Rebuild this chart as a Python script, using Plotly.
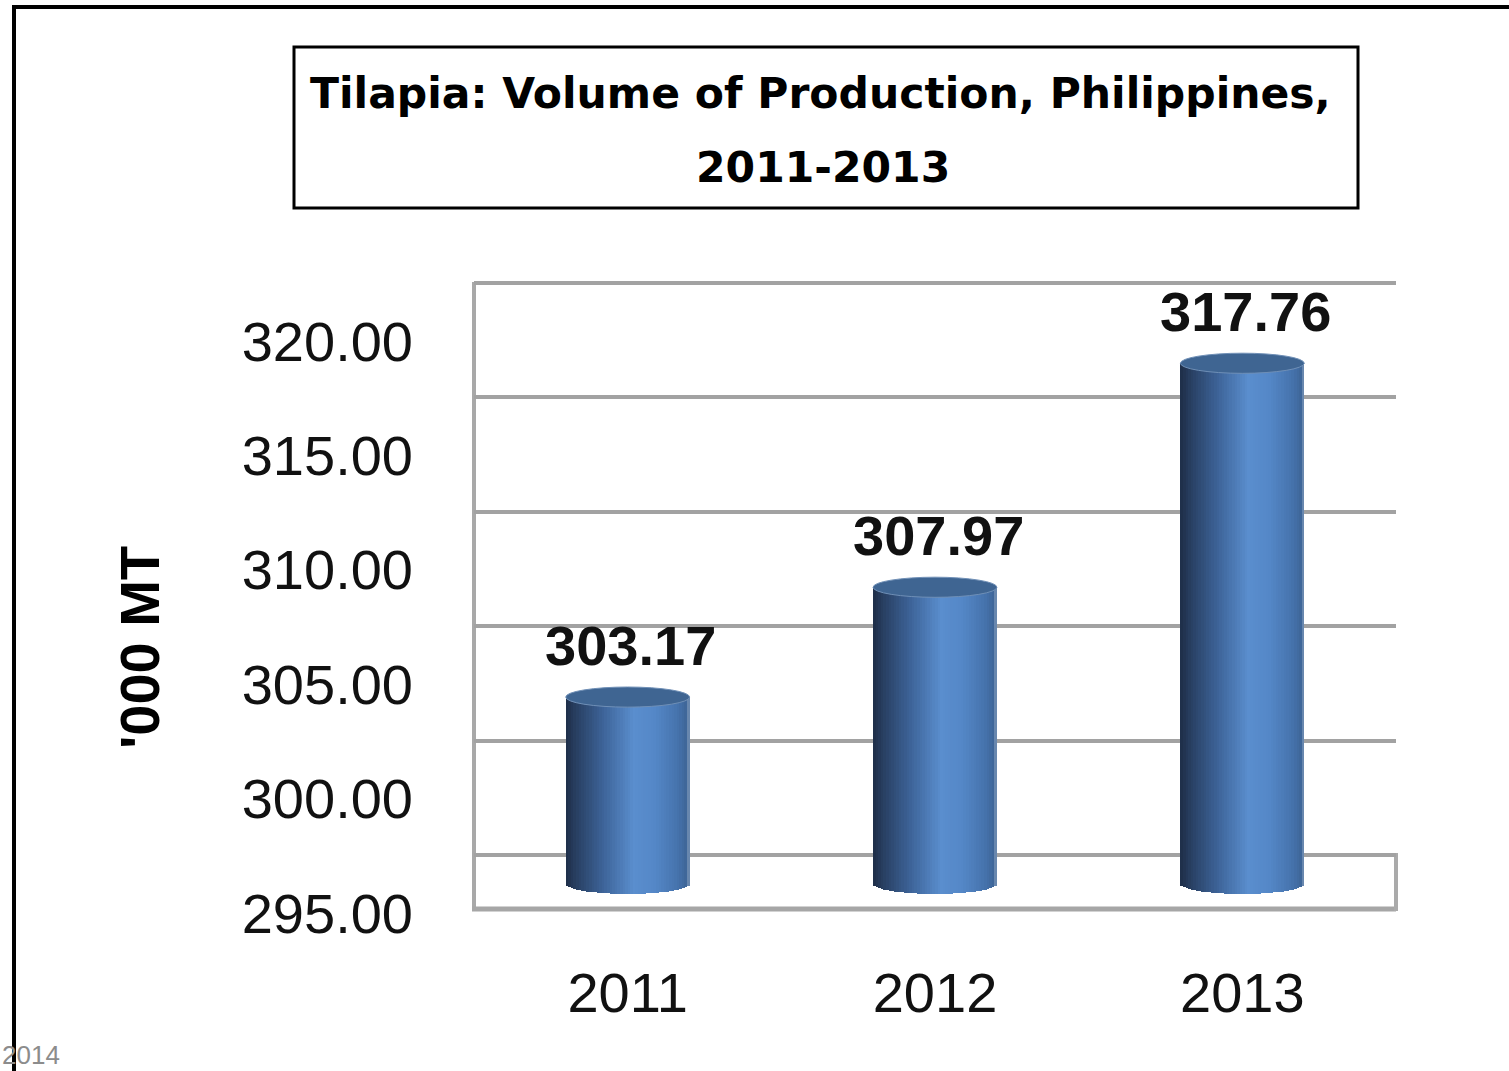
import plotly.graph_objects as go
import numpy as np

# ---- data ----
years = ["2011", "2012", "2013"]
volumes = [303.17, 307.97, 317.76]
y_ticks = [295, 300, 305, 310, 315, 320]
y_tick_labels = ["295.00", "300.00", "305.00", "310.00", "315.00", "320.00"]
title_line1 = "Tilapia: Volume of Production, Philippines,"
title_line2 = "2011-2013"
y_title = "'000 MT"
footer = "2014"

W, H = 1509, 1071
def px(x):
    return x / W
def py(y):
    return 1 - y / H

K = 22.88  # pixels per unit
Y0, Y1 = 295, 320
# pixel positions of 295 for each depth plane
BACK0, MID0, FRONT0 = 855, 884, 913
def dom(base_px, lo, hi):
    return [py(base_px - (lo - Y0) * K), py(base_px - (hi - Y0) * K)]

XL, XR = 474, 1396
xpos = list(range(len(years)))
bar_w = 0.403
cap_h = 0.44

fig = go.Figure()

# invisible traces so label and grid subplots exist
fig.add_trace(go.Scatter(x=xpos, y=volumes, xaxis="x", yaxis="y", mode="markers",
                         marker=dict(opacity=0), hoverinfo="skip", showlegend=False))
fig.add_trace(go.Scatter(x=xpos, y=volumes, xaxis="x", yaxis="y2", mode="markers",
                         marker=dict(opacity=0), hoverinfo="skip", showlegend=False))

# cylinder body as vertical strips
stops = [(0.0, (30, 46, 72)), (0.1, (42, 66, 102)), (0.3, (61, 99, 152)),
         (0.55, (90, 142, 206)), (0.72, (84, 135, 199)), (0.9, (70, 115, 173)),
         (0.98, (62, 101, 151)), (1.0, (150, 172, 200))]
def grad(t):
    for (t0, c0), (t1, c1) in zip(stops[:-1], stops[1:]):
        if t <= t1:
            f = (t - t0) / (t1 - t0) if t1 > t0 else 0
            c = [round(a + (b - a) * f) for a, b in zip(c0, c1)]
            return "rgb(%d,%d,%d)" % tuple(c)
    return "rgb(%d,%d,%d)" % stops[-1][1]

N = 48
sw = bar_w / N
for i in range(N):
    t = (i + 0.5) / N
    u = 2 * t - 1
    base = Y0 - cap_h * np.sqrt(max(0.0, 1 - u * u))
    fig.add_trace(go.Bar(
        x=xpos, y=[v - base for v in volumes], base=[base] * len(volumes),
        width=sw * 1.05, offset=-bar_w / 2 + i * sw,
        marker=dict(color=grad(t), line=dict(width=0)),
        xaxis="x", yaxis="y3", hoverinfo="skip", showlegend=False))

shapes = []
# top ellipses of cylinders
for xi, v in zip(xpos, volumes):
    shapes.append(dict(type="circle", xref="x", yref="y3",
                       x0=xi - bar_w / 2, x1=xi + bar_w / 2, y0=v - cap_h, y1=v + cap_h,
                       fillcolor="#3f6592", line=dict(color="#6f8fb6", width=1), layer="above"))

grid_col = "#a2a2a2"
# side wall and floor frame
shapes.append(dict(type="line", xref="paper", yref="paper", x0=px(XL), x1=px(XL),
                   y0=py(282), y1=py(910), line=dict(color="#a8a8a8", width=4), layer="below"))
shapes.append(dict(type="line", xref="paper", yref="paper", x0=px(XL - 2), x1=px(XR),
                   y0=py(909), y1=py(909), line=dict(color="#a6a6a6", width=5), layer="below"))
shapes.append(dict(type="line", xref="paper", yref="paper", x0=px(XR), x1=px(XR),
                   y0=py(853), y1=py(911), line=dict(color="#aaaaaa", width=4), layer="below"))
# title box
shapes.append(dict(type="rect", xref="paper", yref="paper", x0=px(294), x1=px(1358),
                   y0=py(208), y1=py(47), line=dict(color="black", width=3)))
# outer frame
shapes.append(dict(type="line", xref="paper", yref="paper", x0=px(12), x1=1,
                   y0=py(7), y1=py(7), line=dict(color="black", width=4)))
shapes.append(dict(type="line", xref="paper", yref="paper", x0=px(14), x1=px(14),
                   y0=py(5), y1=0, line=dict(color="black", width=4)))

annotations = []
for xi, v in zip(xpos, volumes):
    annotations.append(dict(x=xi, y=v, xref="x", yref="y3", text="<b>%.2f</b>" % v,
                            showarrow=False, yshift=52, xshift=3,
                            xanchor="center", yanchor="middle",
                            font=dict(family="Liberation Sans", size=56, color="#111111")))
annotations.append(dict(x=px(820), y=py(93), xref="paper", yref="paper",
                        xanchor="center", yanchor="middle",
                        text="<b>%s</b>" % title_line1, showarrow=False,
                        font=dict(family="DejaVu Sans", size=42.5, color="black")))
annotations.append(dict(x=px(823), y=py(167), xref="paper", yref="paper",
                        xanchor="center", yanchor="middle",
                        text="<b>%s</b>" % title_line2, showarrow=False,
                        font=dict(family="DejaVu Sans", size=42.5, color="black")))
annotations.append(dict(x=px(139), y=py(648), xref="paper", yref="paper",
                        xanchor="center", yanchor="middle",
                        text="<b>%s</b>" % y_title, textangle=-90, showarrow=False,
                        font=dict(family="Liberation Sans", size=56, color="black")))
annotations.append(dict(x=0, y=py(1055), xref="paper", yref="paper", xanchor="left",
                        yanchor="middle", text=footer, showarrow=False,
                        font=dict(family="Liberation Sans", size=26, color="#8c8c8c")))

GR0, GR1 = 294.9, 320.1
fig.update_layout(
    width=W, height=H, autosize=False,
    margin=dict(l=0, r=0, t=0, b=0, pad=0, autoexpand=False),
    paper_bgcolor="white", plot_bgcolor="rgba(0,0,0,0)",
    barmode="overlay", bargap=0,
    showlegend=False,
    xaxis=dict(domain=[px(XL), px(XR)], range=[-0.5, 2.5], tickmode="array",
               tickvals=xpos, ticktext=years, showgrid=False, zeroline=False,
               showline=False, ticks="", anchor="free", position=py(910),
               ticklabelstandoff=45, automargin=False,
               tickfont=dict(family="Liberation Sans", size=56, color="#111111")),
    yaxis=dict(domain=dom(FRONT0, Y0, Y1), range=[Y0, Y1], tickmode="array",
               tickvals=y_ticks, ticktext=y_tick_labels, showgrid=False, zeroline=False,
               showline=False, ticks="", anchor="free", position=px(413),
               automargin=False,
               tickfont=dict(family="Liberation Sans", size=56, color="#111111")),
    yaxis2=dict(domain=dom(BACK0, GR0, GR1), range=[GR0, GR1], tickmode="array",
                tickvals=y_ticks, showticklabels=False, showgrid=True,
                gridcolor=grid_col, gridwidth=4, zeroline=False, showline=False,
                ticks="", anchor="x", automargin=False),
    yaxis3=dict(domain=dom(MID0, 293.5, 321), range=[293.5, 321], showticklabels=False,
                showgrid=False, zeroline=False, showline=False, ticks="", anchor="x",
                automargin=False),
    shapes=shapes, annotations=annotations,
)

fig.write_html("out.html")
